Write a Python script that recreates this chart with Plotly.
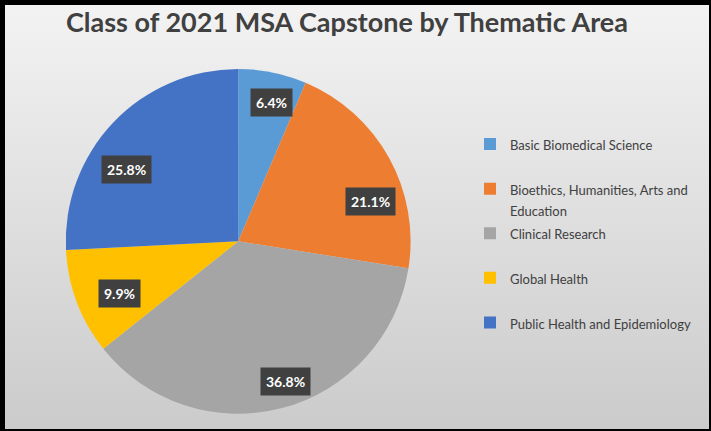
import math

import plotly.graph_objects as go

# data
areas = [
    "Basic Biomedical Science",
    "Bioethics, Humanities, Arts and<br>Education",
    "Clinical Research",
    "Global Health",
    "Public Health and Epidemiology",
]
shares = [6.4, 21.1, 36.8, 9.9, 25.8]
colors = ["#5B9BD5", "#ED7D31", "#A5A5A5", "#FFC000", "#4472C4"]

W, H = 711, 431
dom_x = [0.05, 0.62]
dom_y = [0.04, 0.84]
# "best fit" style nudges for the percentage boxes: (angle shift in degrees, radius fraction)
label_nudge = [(2, 0.83), (12, 0.80), (-4, 0.86), (-3, 0.75), (-11, 0.77)]


def legend_label(text):
    # pad every entry to two lines so the legend is spread out like the original
    body = f'<span style="font-size:13px">{text}</span>'
    if "<br>" not in text:
        body += "<br>\u00a0"
    return body


fig = go.Figure()

# soft vertical gradient behind everything
fig.add_trace(go.Scatter(
    x=[0, 1, 1, 0, 0], y=[0, 0, 1, 1, 0],
    mode="none", fill="toself",
    fillgradient=dict(type="vertical", colorscale=[[0, "#cbcbcb"], [1, "#f3f3f3"]]),
    showlegend=False, hoverinfo="skip",
))

fig.add_trace(go.Pie(
    labels=[legend_label(a) for a in areas],
    values=shares,
    sort=False,
    direction="clockwise",
    rotation=0,
    marker=dict(colors=colors, line=dict(width=0)),
    textinfo="none",
    hovertemplate="%{value}%<extra></extra>",
    domain=dict(x=dom_x, y=dom_y),
))

# percentage boxes placed around the middle angle of each slice
cx = sum(dom_x) / 2
cy = sum(dom_y) / 2
r_px = min((dom_x[1] - dom_x[0]) * W, (dom_y[1] - dom_y[0]) * H) / 2
total = sum(shares)
acc = 0.0
for v, (shift, frac) in zip(shares, label_nudge):
    theta = math.radians((acc + v / 2) / total * 360 + shift)
    acc += v
    fig.add_annotation(
        x=cx + frac * r_px * math.sin(theta) / W,
        y=cy + frac * r_px * math.cos(theta) / H,
        xref="paper", yref="paper",
        xanchor="center", yanchor="middle",
        text=f"<b>{v:.1f}%</b>",
        showarrow=False,
        font=dict(family="Lato", size=14, color="#ffffff"),
        bgcolor="#404040",
        borderpad=5,
    )

# legend panel
fig.add_shape(
    type="rect", xref="paper", yref="paper",
    x0=489 / W, x1=707 / W, y0=1 - 356 / H, y1=1 - 132 / H,
    fillcolor="rgba(255,255,255,0.3)", line=dict(width=0), layer="below",
)
# frame, heavier on top/left
fig.add_shape(
    type="rect", xref="paper", yref="paper",
    x0=0, y0=-3 / H, x1=1 + 3 / W, y1=1,
    line=dict(color="#000000", width=10), layer="above",
)

fig.update_layout(
    width=W, height=H,
    margin=dict(l=0, r=0, t=0, b=0),
    paper_bgcolor="#e2e2e2",
    plot_bgcolor="rgba(0,0,0,0)",
    xaxis=dict(visible=False, range=[0, 1], domain=[0, 1], fixedrange=True),
    yaxis=dict(visible=False, range=[0, 1], domain=[0, 1], fixedrange=True),
    font=dict(family="Lato", color="#404040"),
    title=dict(
        text="<b>Class of 2021 MSA Capstone by Thematic Area</b>",
        x=0.488, xanchor="center", y=0.948, yanchor="middle",
        font=dict(family="Lato", size=27, color="#404040"),
    ),
    legend=dict(
        x=470 / W, xanchor="left", y=0.705, yanchor="top",
        bgcolor="rgba(0,0,0,0)",
        font=dict(family="Lato", size=16, color="#404040"),
        valign="top",
    ),
)

fig.write_html(
    "out.html",
    config={"displayModeBar": False},
    post_script="document.body.style.margin='0';",
)
